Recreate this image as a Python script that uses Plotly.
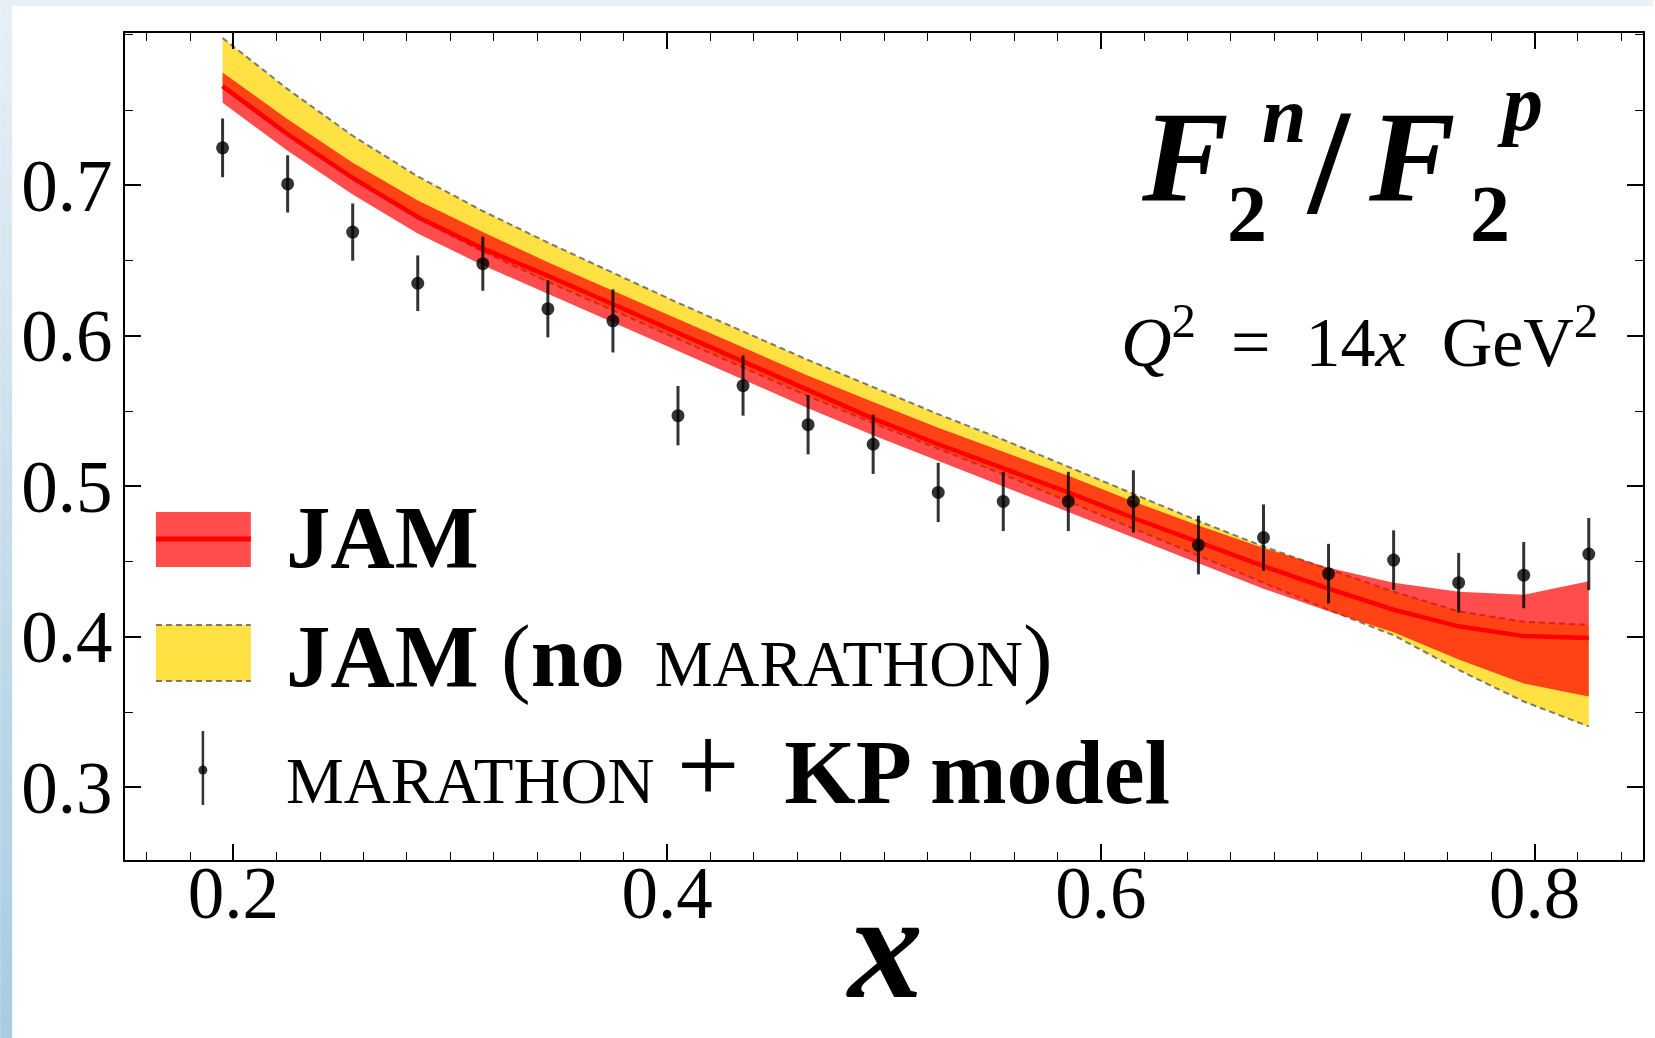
import plotly.graph_objects as go

# ---------------- data ----------------
x_pts = [0.195, 0.225, 0.255, 0.285, 0.315, 0.345, 0.375, 0.405, 0.435, 0.465, 0.495,
         0.525, 0.555, 0.585, 0.615, 0.645, 0.675, 0.705, 0.735, 0.765, 0.795, 0.825]

# MARATHON + KP model points
y_pts = [0.725, 0.701, 0.669, 0.635, 0.648, 0.618, 0.610, 0.547, 0.567, 0.541, 0.528,
         0.496, 0.490, 0.490, 0.490, 0.461, 0.466, 0.442, 0.451, 0.436, 0.441, 0.455]
y_err = [0.0195, 0.019, 0.019, 0.0185, 0.018, 0.019, 0.021, 0.0197, 0.020, 0.0197, 0.0197,
         0.0197, 0.0197, 0.0197, 0.0207, 0.0195, 0.022, 0.0198, 0.0198, 0.0198, 0.022, 0.024]

# JAM (no MARATHON) band
yel_hi = [0.798, 0.764, 0.733, 0.706, 0.683, 0.662, 0.642, 0.622, 0.603, 0.584, 0.566,
          0.548, 0.531, 0.513, 0.495, 0.477, 0.460, 0.445, 0.430, 0.417, 0.410, 0.408]
yel_lo = [0.765, 0.733, 0.704, 0.678, 0.656, 0.636, 0.617, 0.598, 0.579, 0.560, 0.542,
          0.525, 0.508, 0.490, 0.472, 0.454, 0.436, 0.418, 0.401, 0.378, 0.357, 0.3405]

# JAM band
jam_hi = [0.775, 0.744, 0.715, 0.690, 0.669, 0.649, 0.630, 0.611, 0.592, 0.5735, 0.556,
          0.539, 0.523, 0.507, 0.490, 0.474, 0.459, 0.446, 0.436, 0.430, 0.428, 0.437]
jam_mid = [0.766, 0.734, 0.705, 0.679, 0.658, 0.640, 0.621, 0.602, 0.583, 0.564, 0.545,
           0.528, 0.512, 0.496, 0.479, 0.463, 0.447, 0.432, 0.418, 0.407, 0.4005, 0.3993]
jam_lo = [0.755, 0.723, 0.694, 0.668, 0.647, 0.628, 0.609, 0.590, 0.571, 0.552, 0.534,
          0.517, 0.500, 0.483, 0.466, 0.449, 0.432, 0.417, 0.403, 0.385, 0.369, 0.3603]

x_ticks = [0.2, 0.4, 0.6, 0.8]
x_ticktext = ["0.2", "0.4", "0.6", "0.8"]
y_ticks = [0.3, 0.4, 0.5, 0.6, 0.7]
y_ticktext = ["0.3", "0.4", "0.5", "0.6", "0.7"]

# ---------------- styling ----------------
W, H = 1655, 1038
ML, MR, MT, MB = 125, 10, 33, 178
FONT = "Liberation Serif"
YELLOW = "#FFE144"
RED_BAND = "rgba(255,0,0,0.7)"
DASH_COL = "rgba(100,100,100,0.85)"
PT_COL = "rgba(0,0,0,0.8)"


def PX(px):
    return (px - ML) / (W - ML - MR)


def PY(py):
    return (H - MB - py) / (H - MT - MB)


fig = go.Figure()

# yellow band
fig.add_trace(go.Scatter(x=x_pts, y=yel_lo, mode="lines",
                         line=dict(color=DASH_COL, width=2, dash="6px,4px"),
                         hoverinfo="skip", showlegend=False))
fig.add_trace(go.Scatter(x=x_pts, y=yel_hi, mode="lines", fill="tonexty", fillcolor=YELLOW,
                         line=dict(color=DASH_COL, width=2, dash="6px,4px"),
                         hoverinfo="skip", showlegend=False))
# red band
fig.add_trace(go.Scatter(x=x_pts, y=jam_lo, mode="lines", line=dict(width=0),
                         hoverinfo="skip", showlegend=False))
fig.add_trace(go.Scatter(x=x_pts, y=jam_hi, mode="lines", fill="tonexty", fillcolor=RED_BAND,
                         line=dict(width=0), hoverinfo="skip", showlegend=False))
fig.add_trace(go.Scatter(x=x_pts, y=jam_mid, mode="lines", line=dict(color="#FF0000", width=4.5),
                         hoverinfo="skip", showlegend=False))
# data points
fig.add_trace(go.Scatter(x=x_pts, y=y_pts, mode="markers",
                         marker=dict(size=13, color=PT_COL),
                         error_y=dict(type="data", array=y_err, visible=True,
                                      thickness=3, width=0, color=PT_COL),
                         showlegend=False))

axis_common = dict(showline=True, linecolor="black", linewidth=2, mirror="allticks",
                   ticks="inside", ticklen=16, tickwidth=1.5, tickcolor="black",
                   showgrid=False, zeroline=False,
                   tickfont=dict(family=FONT, size=73, color="black"))

fig.update_xaxes(range=[0.15, 0.85], tickmode="array", tickvals=x_ticks, ticktext=x_ticktext,
                 minor=dict(ticks="inside", ticklen=8, tickwidth=1.2, tickcolor="black",
                            tickmode="linear", tick0=0, dtick=0.02, showgrid=False),
                 ticklabelstandoff=-32, **axis_common)
fig.update_yaxes(range=[0.2517, 0.8013], tickmode="array", tickvals=y_ticks, ticktext=y_ticktext,
                 minor=dict(ticks="inside", ticklen=8, tickwidth=1.2, tickcolor="black",
                            tickmode="linear", tick0=0, dtick=0.05, showgrid=False),
                 ticklabelstandoff=-4, **axis_common)

shapes = []
# page strips (background around the figure)
shapes.append(dict(type="rect", xref="paper", yref="paper", x0=PX(0), x1=PX(W), y0=PY(6), y1=PY(0),
                   fillcolor="#E9F1F5", line=dict(width=0), layer="above"))
n_seg = 60
c0 = (231, 239, 246)
c1 = (168, 204, 225)
for i in range(n_seg):
    t = i / (n_seg - 1)
    col = "rgb(%d,%d,%d)" % tuple(round(c0[k] + (c1[k] - c0[k]) * t) for k in range(3))
    ya = H * i / n_seg
    yb = H * (i + 1) / n_seg + 1
    shapes.append(dict(type="rect", xref="paper", yref="paper", x0=PX(0), x1=PX(12),
                       y0=PY(yb), y1=PY(ya), fillcolor=col, line=dict(width=0), layer="above"))

# legend patches
shapes.append(dict(type="rect", xref="paper", yref="paper", x0=PX(156), x1=PX(251),
                   y0=PY(567), y1=PY(512), fillcolor=RED_BAND, line=dict(width=0)))
shapes.append(dict(type="line", xref="paper", yref="paper", x0=PX(156), x1=PX(251),
                   y0=PY(539), y1=PY(539), line=dict(color="#FF0000", width=5)))
shapes.append(dict(type="rect", xref="paper", yref="paper", x0=PX(156), x1=PX(251),
                   y0=PY(681), y1=PY(625), fillcolor=YELLOW, line=dict(width=0)))
for yy in (625, 681):
    shapes.append(dict(type="line", xref="paper", yref="paper", x0=PX(156), x1=PX(251),
                       y0=PY(yy), y1=PY(yy), line=dict(color=DASH_COL, width=2, dash="6px,4px")))
shapes.append(dict(type="line", xref="paper", yref="paper", x0=PX(203), x1=PX(203),
                   y0=PY(805), y1=PY(731), line=dict(color=PT_COL, width=2.5)))
shapes.append(dict(type="circle", xref="paper", yref="paper", x0=PX(198.5), x1=PX(207.5),
                   y0=PY(774.5), y1=PY(765.5), fillcolor=PT_COL, line=dict(width=0)))

annotations = []


def ann(text, px, py, size, xanchor="left", yanchor="middle"):
    annotations.append(dict(text=text, x=PX(px), y=PY(py), xref="paper", yref="paper",
                            xanchor=xanchor, yanchor=yanchor, showarrow=False,
                            font=dict(family=FONT, size=size, color="black")))


SC = "<span style='font-size:65px'>MARATHON</span>"
GAP = "<span style='font-size:120px'>&nbsp;</span>"
# legend texts
ann("<b>JAM</b>", 284, 537, 89)
ann("<b>JAM</b>&nbsp;(<b>no</b>" + GAP + SC + ")", 284, 645, 89)
ann(SC + "&nbsp;<span style='font-size:112px'>+</span>&nbsp;&nbsp;"
    "<b><span style='font-size:92px'>KP model</span></b>", 284, 765, 89)

# title F2n / F2p
ann("<b><i>F</i></b>", 1140, 156, 130)
ann("<b><i>n</i></b>", 1261, 115, 80)
ann("<b>2</b>", 1226, 214, 80)
ann("<b>/</b>", 1306, 162, 150)
ann("<b><i>F</i></b>", 1368, 156, 130)
ann("<b><i>p</i></b>", 1497, 103, 80)
ann("<b>2</b>", 1470, 214, 80)

# Q^2 label
ann("<i>Q</i><sup>2</sup>&nbsp;&nbsp;=&nbsp;&nbsp;14<i>x</i>&nbsp;&nbsp;GeV<sup>2</sup>",
    1602, 337, 70, xanchor="right")

# x axis title
ann("<b><i>x</i></b>", 885, 946, 150, xanchor="center")

fig.update_layout(width=W, height=H, margin=dict(l=ML, r=MR, t=MT, b=MB, pad=0),
                  paper_bgcolor="white", plot_bgcolor="white", showlegend=False,
                  font=dict(family=FONT, color="black"),
                  shapes=shapes, annotations=annotations)

fig.write_html("out.html", config={"displayModeBar": False},
               post_script="document.body.style.margin='0';document.body.style.overflow='hidden';")
